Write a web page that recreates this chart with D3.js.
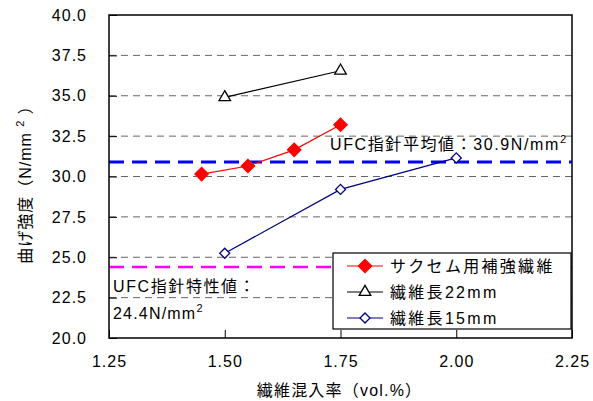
<!DOCTYPE html>
<meta charset="utf-8">
<style>
body { margin: 0; background: #fff; }
text { font-family: "Liberation Sans", "Noto Sans CJK JP", sans-serif; fill: #000; }
.grid line { stroke: #666; stroke-width: 1; stroke-dasharray: 7,5; }
.frame { fill: none; stroke: #000; stroke-width: 1.5; }
</style>
<svg width="593" height="401"></svg>
<script src="https://d3js.org/d3.v7.min.js"></script>
<script>

const xTicks = [1.25, 1.50, 1.75, 2.00, 2.25];
const yTicks = [20, 22.5, 25, 27.5, 30, 32.5, 35, 37.5, 40];

const sakusemX = [1.45, 1.55, 1.65, 1.75];
const sakusemY = [30.15, 30.65, 31.65, 33.2];
const len22X = [1.50, 1.75];
const len22Y = [34.9, 36.55];
const len15X = [1.50, 1.75, 2.00];
const len15Y = [25.25, 29.2, 31.15];

const avgValue = 30.9;
const charValue = 24.4;

const svg = d3.select("svg"),
    margin = {top: 15, right: 21, bottom: 63, left: 109},
    width = +svg.attr("width") - margin.left - margin.right,
    height = +svg.attr("height") - margin.top - margin.bottom,
    g = svg.append("g").attr("transform", "translate(" + margin.left + "," + margin.top + ")");

const xScale = d3.scaleLinear().domain([1.25, 2.25]).range([0, width]);
const yScale = d3.scaleLinear().domain([20, 40]).range([height, 0]);

// dashed grid
g.append("g").attr("class", "grid")
  .selectAll("line")
  .data(yTicks.slice(1, -1))
  .join("line")
    .attr("x1", 0).attr("x2", width)
    .attr("y1", d => yScale(d)).attr("y2", d => yScale(d));

// reference lines
g.append("line")
    .attr("x1", 0).attr("x2", width)
    .attr("y1", yScale(avgValue)).attr("y2", yScale(avgValue))
    .attr("stroke", "#0000ff").attr("stroke-width", 3)
    .attr("stroke-dasharray", "15,8");
g.append("line")
    .attr("x1", 0).attr("x2", width)
    .attr("y1", yScale(charValue)).attr("y2", yScale(charValue))
    .attr("stroke", "#ff00ff").attr("stroke-width", 2.5)
    .attr("stroke-dasharray", "15,8");

// axes
const yAxis = g.append("g")
    .call(d3.axisLeft(yScale).tickValues(yTicks).tickFormat(d3.format(".1f")).tickSizeInner(-8).tickSizeOuter(0).tickPadding(22));
const xAxis = g.append("g")
    .attr("transform", "translate(0," + height + ")")
    .call(d3.axisBottom(xScale).tickValues(xTicks).tickFormat(d3.format(".2f")).tickSizeInner(-8).tickSizeOuter(0).tickPadding(18));
[yAxis, xAxis].forEach(a => {
  a.select(".domain").remove();
  a.selectAll("line").attr("stroke", "#000");
  a.selectAll("text").attr("font-size", 16).attr("letter-spacing", 1)
    .attr("font-family", "Liberation Sans, sans-serif");
});

g.append("rect").attr("class", "frame").attr("width", width).attr("height", height);

// series (diamonds are squares turned 45 degrees)
const line = d3.line().x(d => xScale(d[0])).y(d => yScale(d[1]));
const series = [
  {name: "サクセム用補強繊維", xs: sakusemX, ys: sakusemY, color: "#ff0000", symbol: d3.symbolSquare, rot: 45, size: 88, fill: "#ff0000"},
  {name: "繊維長22mm", xs: len22X, ys: len22Y, color: "#000000", symbol: d3.symbolTriangle, rot: 0, size: 58, fill: "#ffffff"},
  {name: "繊維長15mm", xs: len15X, ys: len15Y, color: "#000080", symbol: d3.symbolSquare, rot: 45, size: 50, fill: "#ffffff"}
];

series.forEach(s => {
  const pts = s.xs.map((x, i) => [x, s.ys[i]]);
  g.append("path").datum(pts)
      .attr("fill", "none").attr("stroke", s.color).attr("stroke-width", 1.2)
      .attr("d", line);
  g.selectAll(null).data(pts).join("path")
      .attr("transform", d => "translate(" + xScale(d[0]) + "," + yScale(d[1]) + ") rotate(" + s.rot + ")")
      .attr("d", d3.symbol().type(s.symbol).size(s.size))
      .attr("fill", s.fill).attr("stroke", s.color).attr("stroke-width", 1.3);
});

// annotations
function sup(t, base, supTxt, after) {
  t.append("tspan").text(base);
  t.append("tspan").attr("dy", -7).attr("font-size", 11).text(supTxt);
  if (after) t.append("tspan").attr("dy", 7).text(after);
}
const a1 = g.append("text").attr("x", xScale(1.25) + 221).attr("y", yScale(avgValue) - 12)
    .attr("font-size", 16).attr("letter-spacing", 1.6);
sup(a1, "UFC指針平均値：30.9N/mm", "2");
g.append("text").attr("x", 4).attr("y", yScale(charValue) + 25)
    .attr("font-size", 16).attr("letter-spacing", 1.6).text("UFC指針特性値：");
const a2 = g.append("text").attr("x", 4).attr("y", yScale(charValue) + 52)
    .attr("font-size", 16).attr("letter-spacing", 1.2);
sup(a2, "24.4N/mm", "2");

// legend
const legend = g.append("g").attr("transform", "translate(" + (width - 239) + "," + (height - 85) + ")");
legend.append("rect").attr("width", 238).attr("height", 76)
    .attr("fill", "#fff").attr("stroke", "#000").attr("stroke-width", 1.2);
series.forEach((s, i) => {
  const row = legend.append("g").attr("transform", "translate(0," + (13 + i * 26) + ")");
  row.append("line").attr("x1", 14).attr("x2", 50).attr("stroke", s.color).attr("stroke-width", 1.2);
  row.append("path").attr("transform", "translate(32,0) rotate(" + s.rot + ")")
      .attr("d", d3.symbol().type(s.symbol).size(s.size))
      .attr("fill", s.fill).attr("stroke", s.color).attr("stroke-width", 1.3);
  row.append("text").attr("x", 57).attr("dy", "0.36em")
      .attr("font-size", 16).attr("letter-spacing", 2.3).text(s.name);
});

// axis titles
svg.append("text").attr("x", margin.left + width / 2 - 1).attr("y", 396)
    .attr("text-anchor", "middle").attr("font-size", 16).attr("letter-spacing", 1.2)
    .text("繊維混入率（vol.%）");
const yt = svg.append("text")
    .attr("transform", "translate(31," + (margin.top + height / 2 + 4) + ") rotate(-90)")
    .attr("text-anchor", "middle").attr("font-size", 16).attr("letter-spacing", 1);
yt.append("tspan").text("曲げ強度（N/mm ");
yt.append("tspan").attr("dy", -7).attr("font-size", 11).text("2");
yt.append("tspan").attr("dy", 7).text(" ）");

</script>
